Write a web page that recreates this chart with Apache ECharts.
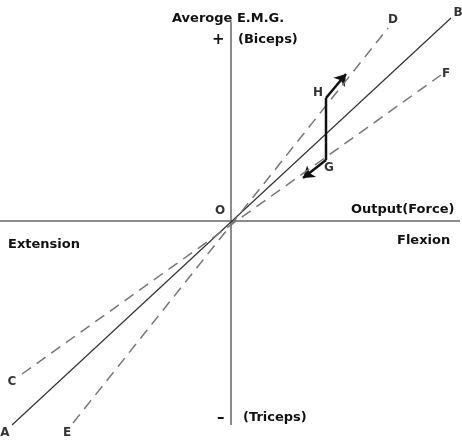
<!DOCTYPE html>
<html>
<head>
<meta charset="utf-8">
<script src="https://cdn.jsdelivr.net/npm/echarts@6/dist/echarts.min.js"></script>
<style>
  html, body { margin: 0; padding: 0; background: #fff; }
  #chart { width: 462px; height: 442px; }
</style>
</head>
<body>
<div id="chart"></div>
<script>
// 坐标单位: 原点为 O, 横轴 Output(Force), 纵轴 Average E.M.G.
var lineAB = [[-10.95, -10.2], [11.0, 10.15]]
var lineCF = [[-10.45, -7.65], [10.5, 7.3]]
var lineED = [[-7.9, -10.1], [7.85, 9.65]]
var axisX = [[-11.55, 0], [11.45, 0]]
var axisY = [[0, 9.95], [0, -10.2]]
// H -> G 路径
var pointH = [4.75, 6.15]
var pointG = [4.75, 3.05]
var tipH = [5.75, 7.35]
var tipG = [3.6, 2.15]
// 点标签
var pointNames = ['A', 'B', 'C', 'D', 'E', 'F', 'H', 'G', 'O']
var pointX = [-11.3, 11.35, -10.95, 8.1, -8.2, 10.75, 4.35, 4.9, -0.55]
var pointY = [-10.6, 10.4, -8.05, 10.05, -10.6, 7.35, 6.4, 2.65, 0.5]

var font = 'DejaVu Sans'
var chart = echarts.init(document.getElementById('chart'))

function straight(data, color, width, type) {
  return {
    type: 'line',
    data: data,
    showSymbol: false,
    silent: true,
    animation: false,
    lineStyle: { color: color, width: width, type: type }
  }
}

function caption(text, x, y, size) {
  return {
    type: 'text',
    left: x,
    top: y,
    style: {
      text: text,
      x: 0,
      y: 0,
      fill: '#111',
      font: 'bold ' + (size || 13) + 'px "' + font + '"',
      textVerticalAlign: 'middle'
    }
  }
}

chart.setOption({
  animation: false,
  grid: { left: 0, right: 0, top: 0, bottom: 0 },
  xAxis: { type: 'value', min: -11.55, max: 11.55, show: false },
  yAxis: { type: 'value', min: -11.05, max: 11.05, show: false },
  series: [
    straight(axisX, '#666', 1.5, 'solid'),
    straight(axisY, '#666', 1.5, 'solid'),
    straight(lineAB, '#333', 1.2, 'solid'),
    straight(lineCF, '#777', 1.5, [11, 7]),
    straight(lineED, '#777', 1.5, [11, 7]),
    straight([pointH, pointG], '#111', 2.5, 'solid'),
    {
      type: 'lines',
      coordinateSystem: 'cartesian2d',
      silent: true,
      symbol: ['none', 'arrow'],
      symbolSize: 11,
      lineStyle: { color: '#111', width: 2.5, opacity: 1 },
      data: [{ coords: [pointH, tipH] }, { coords: [pointG, tipG] }]
    },
    {
      type: 'scatter',
      symbolSize: 0,
      silent: true,
      data: pointNames.map(function(n, i) {
        return { name: n, value: [pointX[i], pointY[i]] }
      }),
      label: {
        show: true,
        position: 'inside',
        formatter: '{b}',
        color: '#000',
        textBorderWidth: 0,
        fontFamily: font,
        fontWeight: 'bold',
        fontSize: 12
      }
    }
  ],
  graphic: [
    caption('Averoge E.M.G.', 172, 12),
    caption('+', 212, 33, 15),
    caption('(Biceps)', 238, 33),
    caption('Output(Force)', 351, 203),
    caption('Extension', 8, 238),
    caption('Flexion', 397, 234),
    caption('\u2013', 217, 411, 15),
    caption('(Triceps)', 243, 411)
  ]
})
</script>
</body>
</html>
